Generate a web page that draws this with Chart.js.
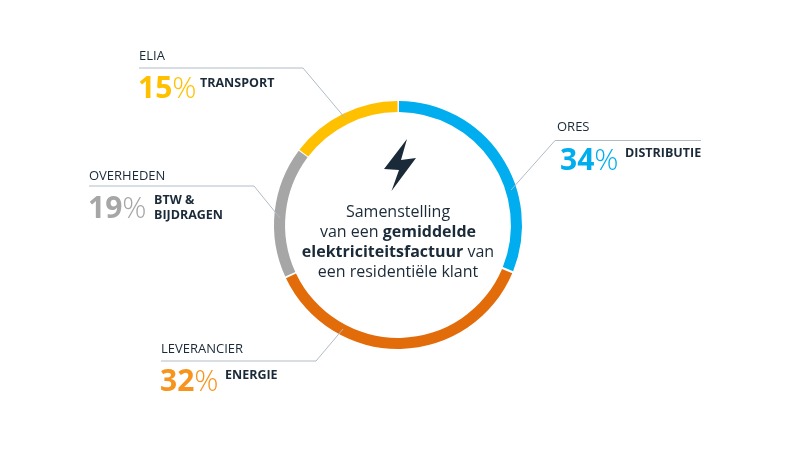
<!DOCTYPE html>
<html lang="nl">
<head>
<meta charset="utf-8">
<title>Samenstelling elektriciteitsfactuur</title>
<style>
    html, body { margin: 0; padding: 0; background: #fff; }
    canvas { display: block; }
</style>
<script src="https://cdn.jsdelivr.net/npm/chart.js@4"></script>
</head>
<body>
<canvas id="factuurChart" width="800" height="450"></canvas>
<script>
// Data, clockwise from the top of the ring
const owners = ['ORES', 'LEVERANCIER', 'OVERHEDEN', 'ELIA'];
const percents = [34, 32, 19, 15];
const categories = [['DISTRIBUTIE'], ['ENERGIE'], ['BTW &', 'BIJDRAGEN'], ['TRANSPORT']];
// The arcs in the picture are not quite in proportion to the printed percentages, so they are read separately
const arcShares = [31.2, 36.9, 17.2, 14.7];

const ringColors = ['#00aeef', '#e36c0a', '#a6a6a6', '#ffc000'];
const percentColors = ['#00aeef', '#f7941d', '#a6a6a6', '#ffc000'];

const centerLines = [
    [['Samenstelling', false]],
    [['van een ', false], ['gemiddelde', true]],
    [['elektriciteitsfactuur', true], [' van', false]],
    [['een residentiële klant', false]],
];

const DARK = '#1b2a38';
const FONT = '"Open Sans"';

// Callout layout, same order as the data
const callouts = [
    { ownerX: 557, ownerY: 131, line: [[701, 140.5], [555, 140.5], [511, 190]], pctX: 560, pctY: 170, catX: 625, catY: 157 },
    { ownerX: 161, ownerY: 353, line: [[161, 361], [316, 361], [343, 329]], pctX: 160, pctY: 391, catX: 225, catY: 379 },
    { ownerX: 89, ownerY: 180, line: [[89, 186], [254, 186], [280, 218]], pctX: 88, pctY: 218, catX: 154, catY: 204 },
    { ownerX: 139, ownerY: 60, line: [[139, 68], [303, 68], [345, 118]], pctX: 138, pctY: 98, catX: 200, catY: 87 },
];

function drawCallouts(ctx) {
    callouts.forEach((c, i) => {
        ctx.strokeStyle = '#b0bcc5';
        ctx.lineWidth = 1;
        ctx.beginPath();
        c.line.forEach(([x, y], n) => (n ? ctx.lineTo(x, y) : ctx.moveTo(x, y)));
        ctx.stroke();

        ctx.fillStyle = DARK;
        ctx.font = `400 13px ${FONT}`;
        ctx.fillText(owners[i], c.ownerX, c.ownerY);

        // Number bold, percent sign light
        const num = String(percents[i]);
        ctx.fillStyle = percentColors[i];
        ctx.font = `700 30px ${FONT}`;
        ctx.fillText(num, c.pctX, c.pctY);
        const numWidth = ctx.measureText(num).width;
        ctx.font = `300 30px ${FONT}`;
        ctx.fillText('%', c.pctX + numWidth, c.pctY);

        ctx.fillStyle = DARK;
        ctx.font = `700 12.5px ${FONT}`;
        categories[i].forEach((text, n) => ctx.fillText(text, c.catX, c.catY + n * 15));
    });
}

function drawCenter(ctx, cx) {
    // Bolt icon
    ctx.fillStyle = DARK;
    ctx.beginPath();
    ctx.moveTo(407, 139);
    ctx.lineTo(384, 169);
    ctx.lineTo(399, 170);
    ctx.lineTo(391.5, 191);
    ctx.lineTo(416, 158);
    ctx.lineTo(401, 160);
    ctx.closePath();
    ctx.fill();

    // Mixed regular/bold text, centred line by line
    centerLines.forEach((runs, n) => {
        const fontOf = bold => `${bold ? 700 : 400} 16px ${FONT}`;
        const widths = runs.map(([text, bold]) => {
            ctx.font = fontOf(bold);
            return ctx.measureText(text).width;
        });
        let x = cx - widths.reduce((a, b) => a + b, 0) / 2;
        runs.forEach(([text, bold], r) => {
            ctx.font = fontOf(bold);
            ctx.fillText(text, x, 217 + n * 20);
            x += widths[r];
        });
    });
}

const annotations = {
    id: 'annotations',
    afterDatasetsDraw(chart) {
        const { ctx } = chart;
        const arc = chart.getDatasetMeta(0).data[0];
        ctx.save();
        ctx.textAlign = 'left';
        ctx.textBaseline = 'alphabetic';
        drawCallouts(ctx);
        drawCenter(ctx, arc.x);
        ctx.restore();
    },
};

new Chart(document.getElementById('factuurChart'), {
    type: 'doughnut',
    data: {
        labels: owners,
        datasets: [{
            data: arcShares,
            backgroundColor: ringColors,
            borderWidth: 0,
            spacing: 2,
        }],
    },
    options: {
        responsive: false,
        animation: false,
        radius: 123,
        cutout: '91%',
        layout: { padding: { right: 4 } },
        plugins: {
            legend: { display: false },
            tooltip: { enabled: false },
        },
    },
    plugins: [annotations],
});
</script>
</body>
</html>
